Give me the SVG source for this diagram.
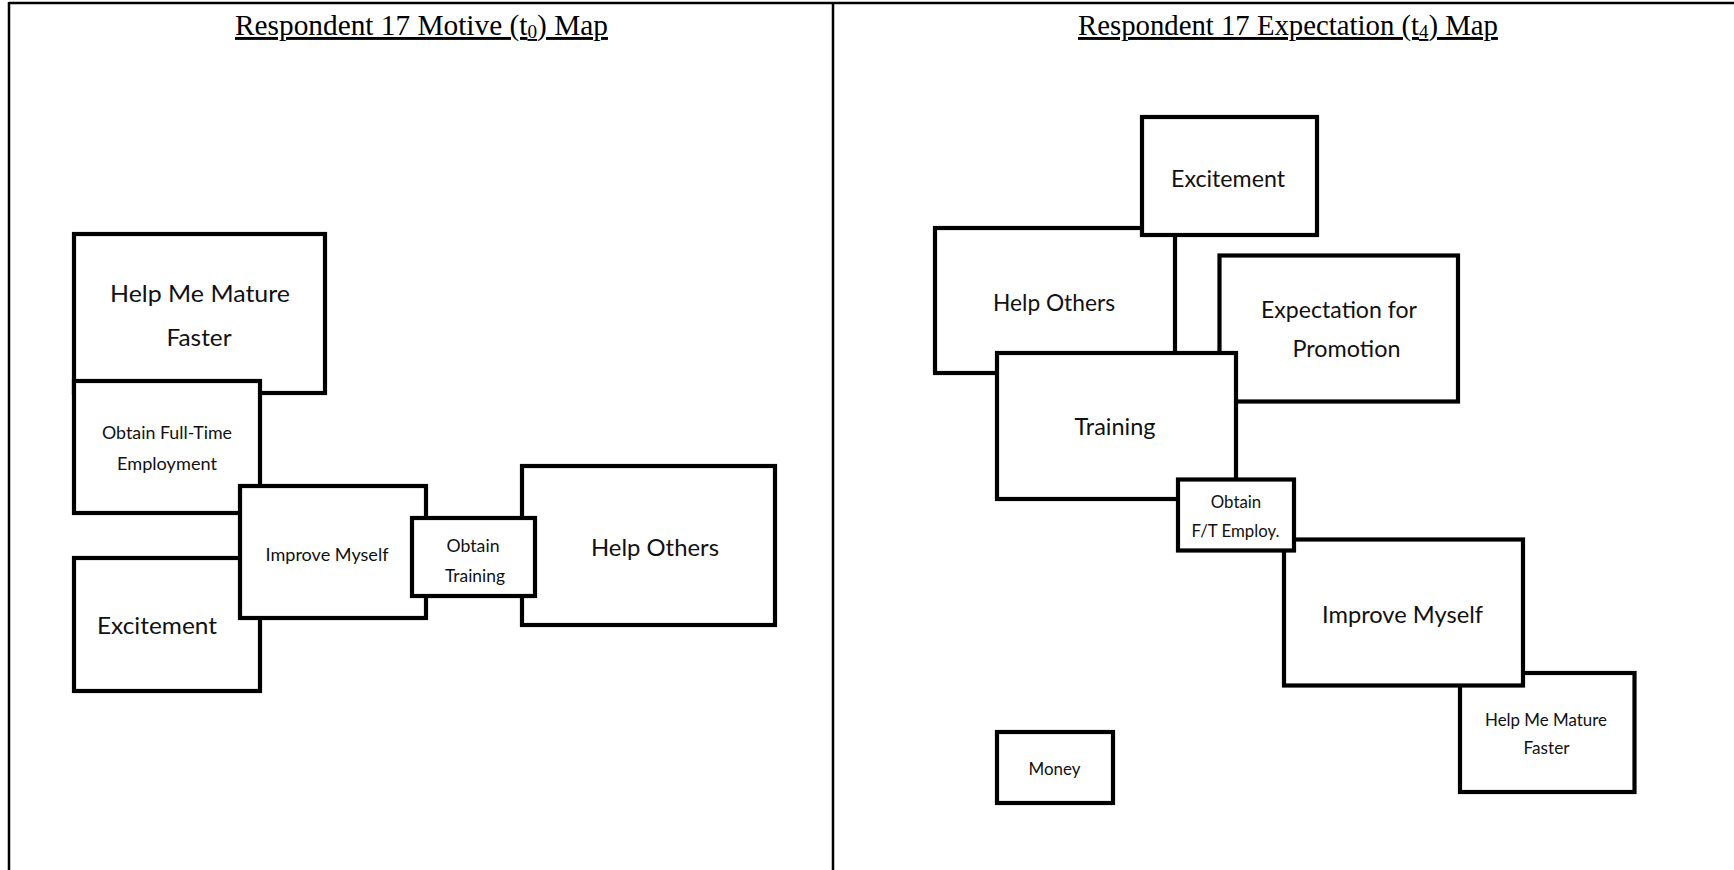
<svg xmlns="http://www.w3.org/2000/svg" width="1734" height="870" viewBox="0 0 1734 870">
<style>
.bg{fill:#ffffff}
.frame{stroke:#000;stroke-width:2.5;fill:none}
.box{fill:#ffffff;stroke:#000;stroke-width:4.2}
.title{font-family:"Liberation Serif","Times New Roman",serif;font-size:29px;fill:#000;text-decoration:underline}
.t{font-family:Lato,"Open Sans","Liberation Sans",sans-serif;fill:#111;text-anchor:middle}
.L{font-size:24px}
.M{font-size:22.5px}
.S{font-size:17.4px}
.XS{font-size:16.5px}
</style>
<rect class="bg" x="0" y="0" width="1734" height="870"/>
<g id="frame">
<line class="frame" x1="9" y1="3" x2="1734" y2="3"/>
<line class="frame" x1="9" y1="2" x2="9" y2="870"/>
<line class="frame" x1="833" y1="3" x2="833" y2="870"/>
</g>
<g id="titles">
<text class="title" transform="translate(235,35) scale(1.012,1)">Respondent 17 Motive (t<tspan font-size="19" dy="3">0</tspan><tspan dy="-3">) Map</tspan></text>
<text class="title" transform="translate(1078,35) scale(0.992,1)">Respondent 17 Expectation (t<tspan font-size="19" dy="3">4</tspan><tspan dy="-3">) Map</tspan></text>
</g>
<g id="connectors"></g>
<g id="motive-map">
<g id="m-help-me-mature">
<rect class="box" x="74" y="234" width="251" height="159"/>
<text class="t L" x="200" y="302" textLength="180" lengthAdjust="spacingAndGlyphs">Help Me Mature</text>
<text class="t L" x="199" y="346" textLength="65" lengthAdjust="spacingAndGlyphs">Faster</text>
</g>
<g id="m-obtain-ft">
<rect class="box" x="74" y="381" width="186" height="132"/>
<text class="t S" x="167" y="439" textLength="130" lengthAdjust="spacingAndGlyphs">Obtain Full-Time</text>
<text class="t S" x="167" y="470" textLength="100" lengthAdjust="spacingAndGlyphs">Employment</text>
</g>
<g id="m-excitement">
<rect class="box" x="74" y="558" width="186" height="133"/>
<text class="t L" x="157" y="634" textLength="120" lengthAdjust="spacingAndGlyphs">Excitement</text>
</g>
<g id="m-improve-myself">
<rect class="box" x="240" y="486" width="186" height="132"/>
<text class="t S" x="327" y="561" textLength="123" lengthAdjust="spacingAndGlyphs">Improve Myself</text>
</g>
<g id="m-help-others">
<rect class="box" x="522" y="466" width="253" height="159"/>
<text class="t L" x="655" y="556" textLength="128" lengthAdjust="spacingAndGlyphs">Help Others</text>
</g>
<g id="m-obtain-training">
<rect class="box" x="412" y="518" width="123" height="78"/>
<text class="t S" x="473" y="552" textLength="53" lengthAdjust="spacingAndGlyphs">Obtain</text>
<text class="t S" x="475" y="582" textLength="60" lengthAdjust="spacingAndGlyphs">Training</text>
</g>
</g>
<g id="expectation-map">
<g id="e-help-others">
<rect class="box" x="935" y="228" width="240" height="145"/>
<text class="t M" x="1054" y="311" textLength="122" lengthAdjust="spacingAndGlyphs">Help Others</text>
</g>
<g id="e-excitement">
<rect class="box" x="1142" y="117" width="175" height="118"/>
<text class="t M" x="1228" y="187" textLength="114" lengthAdjust="spacingAndGlyphs">Excitement</text>
</g>
<g id="e-expectation">
<rect class="box" x="1219.5" y="255.5" width="238.5" height="146"/>
<text class="t M" x="1339" y="318" textLength="156" lengthAdjust="spacingAndGlyphs">Expectation for</text>
<text class="t M" x="1346.5" y="357" textLength="108" lengthAdjust="spacingAndGlyphs">Promotion</text>
</g>
<g id="e-training">
<rect class="box" x="997" y="353" width="239" height="146"/>
<text class="t M" x="1115" y="435" textLength="81" lengthAdjust="spacingAndGlyphs">Training</text>
</g>
<g id="e-help-me-mature">
<rect class="box" x="1460" y="673" width="174.5" height="119"/>
<text class="t XS" x="1546" y="726" textLength="122" lengthAdjust="spacingAndGlyphs">Help Me Mature</text>
<text class="t XS" x="1546.5" y="754" textLength="46" lengthAdjust="spacingAndGlyphs">Faster</text>
</g>
<g id="e-improve-myself">
<rect class="box" x="1284" y="539.5" width="239" height="146"/>
<text class="t M" x="1402.5" y="623" textLength="161" lengthAdjust="spacingAndGlyphs">Improve Myself</text>
</g>
<g id="e-obtain-ft">
<rect class="box" x="1178" y="479.5" width="116" height="71"/>
<text class="t XS" x="1236" y="508" textLength="50.5" lengthAdjust="spacingAndGlyphs">Obtain</text>
<text class="t XS" x="1235.5" y="537" textLength="88" lengthAdjust="spacingAndGlyphs">F/T Employ.</text>
</g>
<g id="e-money">
<rect class="box" x="997" y="732" width="116" height="71"/>
<text class="t XS" x="1054.5" y="775" textLength="52" lengthAdjust="spacingAndGlyphs">Money</text>
</g>
</g>
</svg>
